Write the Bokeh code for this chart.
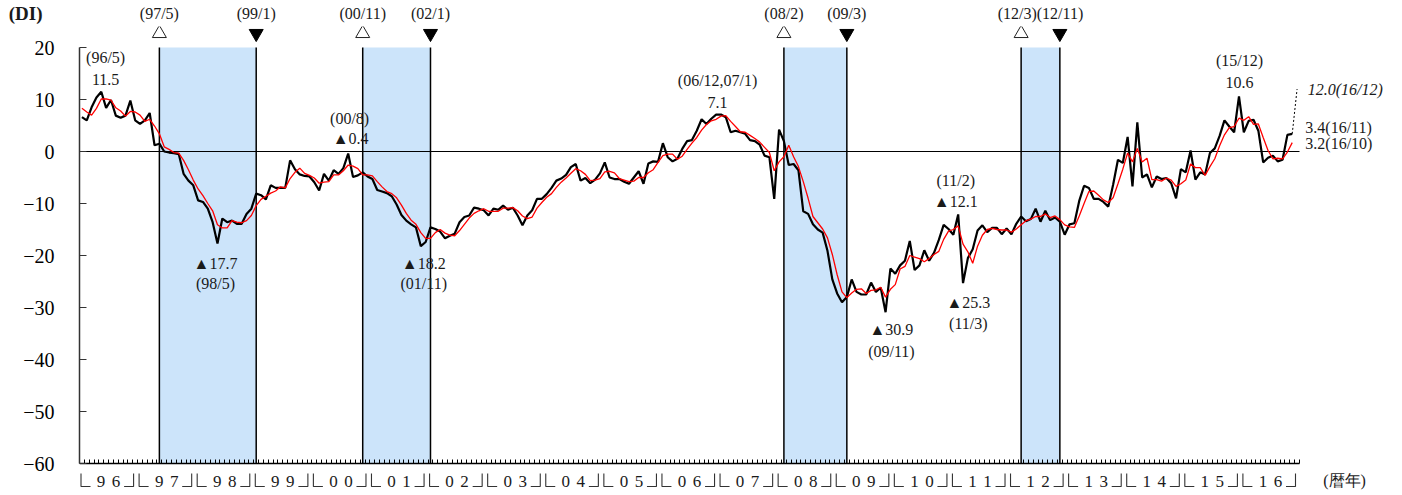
from bokeh.plotting import figure
from bokeh.layouts import column
from bokeh.models import Range1d, FixedTicker, BoxAnnotation
from bokeh.core.properties import value
from bokeh.embed import file_html
from bokeh.resources import INLINE

# ---------------- data (monthly, 1996/1 .. 2016/11) ----------------
di = [6.6, 6.0, 8.5, 10.4, 11.5, 8.4, 9.9, 6.9, 6.5, 6.9, 9.8, 6.0,
      5.3, 6.0, 7.4, 1.2, 1.5, 0.0, -0.2, -0.3, -0.5, -4.3, -5.6, -6.5,
      -9.4, -9.7, -11.0, -13.6, -17.7, -12.9, -13.6, -13.3, -13.9, -13.9, -12.0, -11.0,
      -8.1, -8.4, -9.2, -6.5, -7.0, -7.0, -7.0, -1.7, -3.4, -4.4, -4.7, -4.8,
      -5.9, -7.5, -4.3, -5.6, -3.6, -4.3, -3.2, -0.4, -4.9, -4.6, -4.0, -4.8,
      -5.3, -7.4, -7.7, -8.0, -8.6, -10.2, -12.2, -13.3, -14.0, -14.6, -18.2, -17.4,
      -14.6, -14.9, -15.4, -16.7, -16.2, -15.8, -13.6, -12.6, -12.3, -10.8, -11.0, -11.3,
      -12.3, -11.0, -11.2, -10.4, -11.2, -10.8, -12.3, -14.2, -12.3, -11.3, -9.1, -9.1,
      -8.2, -7.0, -5.6, -5.2, -4.5, -3.0, -2.4, -5.6, -5.1, -6.1, -5.4, -4.2,
      -2.1, -5.0, -5.3, -5.3, -5.8, -6.2, -5.0, -3.8, -6.2, -2.3, -1.9, -2.0,
      1.6, -1.1, -1.9, -1.4, 0.5, 2.0, 2.2, 4.0, 6.2, 5.3, 6.3, 7.1,
      7.1, 6.6, 3.7, 4.0, 3.7, 3.4, 2.2, 2.0, 1.3, -0.8, -1.1, -9.1,
      4.2, 2.0, -2.6, -2.4, -3.6, -11.5, -12.0, -14.0, -15.0, -15.6, -19.1, -24.6,
      -27.3, -29.0, -28.0, -24.6, -27.0, -27.5, -27.5, -25.2, -27.0, -26.2, -30.9, -22.5,
      -23.5, -21.9, -21.0, -17.2, -22.8, -21.9, -19.0, -21.0, -19.5, -17.0, -14.1, -14.9,
      -16.0, -12.1, -25.3, -20.5, -18.8, -15.2, -14.2, -15.5, -14.7, -14.7, -15.9, -14.8,
      -15.9, -13.9, -12.5, -13.4, -13.0, -11.0, -13.5, -11.4, -13.2, -12.7, -13.5, -16.0,
      -14.0, -13.8, -9.5, -6.6, -7.0, -9.1, -9.1, -9.7, -10.6, -6.4, -1.6, -2.2,
      2.8, -6.7, 5.6, -5.0, -4.4, -6.9, -4.8, -5.3, -5.1, -6.1, -9.0, -3.4,
      -4.0, 0.2, -5.4, -4.0, -4.4, -0.3, 0.6, 3.0, 6.0, 4.8, 3.7, 10.6,
      3.7, 5.9, 6.1, 4.0, -2.1, -1.2, -0.8, -1.9, -1.6, 3.2, 3.4]

ma3 = [8.3, 7.6, 7.0, 8.3, 10.1, 10.1, 9.9, 8.4, 7.8, 6.8, 7.7, 7.6,
       7.0, 5.8, 6.2, 4.9, 3.4, 0.9, 0.4, -0.2, -0.3, -1.7, -3.5, -5.5,
       -7.2, -8.5, -10.0, -11.4, -14.1, -14.7, -14.7, -13.3, -13.6, -13.7, -13.3, -12.3,
       -10.4, -9.2, -8.6, -8.0, -7.6, -6.8, -7.0, -5.2, -4.0, -3.2, -4.2, -4.6,
       -5.1, -6.1, -5.9, -5.8, -4.5, -4.5, -3.7, -2.6, -2.8, -3.3, -4.5, -4.5,
       -4.7, -5.8, -6.8, -7.7, -8.1, -8.9, -10.3, -11.9, -13.2, -14.0, -15.6, -16.7,
       -16.7, -15.6, -15.0, -15.7, -16.1, -16.2, -15.2, -14.0, -12.8, -11.9, -11.4, -11.0,
       -11.5, -11.5, -11.5, -10.9, -10.9, -10.8, -11.4, -12.4, -12.9, -12.6, -10.9, -9.8,
       -8.8, -8.1, -6.9, -5.9, -5.1, -4.2, -3.3, -3.7, -4.4, -5.6, -5.5, -5.2,
       -3.9, -3.8, -4.1, -5.2, -5.5, -5.8, -5.7, -5.0, -5.0, -4.1, -3.5, -2.1,
       -0.8, -0.5, -0.5, -1.5, -0.9, 0.4, 1.6, 2.7, 4.1, 5.2, 5.9, 6.2,
       6.8, 6.9, 5.8, 4.8, 3.8, 3.7, 3.1, 2.5, 1.8, 0.8, -0.2, -3.7,
       -2.0, -1.0, 1.2, -1.0, -2.9, -5.8, -9.0, -12.5, -13.7, -14.9, -16.6, -19.8,
       -23.7, -27.0, -28.1, -27.2, -26.5, -26.4, -27.3, -26.7, -26.6, -26.1, -28.0, -26.5,
       -25.6, -22.6, -22.1, -20.0, -20.3, -20.6, -21.2, -20.6, -19.8, -19.2, -16.9, -15.3,
       -15.0, -14.3, -17.8, -19.3, -21.5, -18.2, -16.1, -15.0, -14.8, -15.0, -15.1, -15.1,
       -15.5, -14.9, -14.1, -13.3, -13.0, -12.5, -12.5, -12.0, -12.7, -12.4, -13.1, -14.1,
       -14.5, -14.6, -12.4, -10.0, -7.7, -7.6, -8.4, -9.3, -9.8, -8.9, -6.2, -3.4,
       -0.3, -2.0, 0.6, -2.0, -1.3, -5.4, -5.4, -5.7, -5.1, -5.5, -6.7, -6.2,
       -5.5, -2.4, -3.1, -3.1, -4.6, -2.9, -1.4, 1.1, 3.2, 4.6, 4.8, 6.4,
       6.0, 6.7, 5.2, 5.3, 2.7, 0.2, -1.4, -1.3, -1.4, -0.1, 1.7]

months = list(range(len(di)))          # 0 = 1996/1
forecast_x = [250, 251]                # 16/11 -> 16/12 (forecast)
forecast_y = [3.4, 12.0]

year_labels = ["96", "97", "98", "99", "00", "01", "02", "03", "04", "05", "06",
               "07", "08", "09", "10", "11", "12", "13", "14", "15", "16"]

peak_months = [16, 58, 145, 194]       # 97/5, 00/11, 08/2, 12/3
trough_months = [36, 72, 158, 202]     # 99/1, 02/1, 09/3, 12/11
turn_x = [16, 36, 58, 72, 145, 158, 198]
turn_labels = ["(97/5)", "(99/1)", "(00/11)", "(02/1)", "(08/2)", "(09/3)", "(12/3)(12/11)"]

y_ticks = [-60, -50, -40, -30, -20, -10, 0, 10, 20]

# ---------------- layout constants ----------------
SERIF = "Liberation Serif"
TXT = "#1a1a1a"
N_SLOTS = 252
PX = 1220 / N_SLOTS                    # pixels per month
PY = 416 / 80                          # pixels per DI point
X0 = -0.5
X_END = X0 + 1323 / PX                 # frames reach the right edge of the page
TOP_H = 26                             # top strip height (px)
Y_TOP = 20 + (47 - TOP_H) / PY         # main frame starts just under the top strip
Y_BOT = -60 - (495 - 463) / PY         # main frame reaches the bottom of the page


def below(px):
    """data y for a point px pixels below the -60 axis line"""
    return -60 - px / PY


# ======================= top strip =======================
pt = figure(frame_width=1323, frame_height=TOP_H, x_range=Range1d(X0, X_END),
            y_range=Range1d(TOP_H, 0), x_axis_location=None,
            min_border_left=79, min_border_right=0, min_border_top=0,
            min_border_bottom=0, output_backend="svg", toolbar_location=None)
pt.grid.visible = False
pt.outline_line_color = None
pt.text(x=turn_x, y=[13] * len(turn_x), text=turn_labels, text_align="center",
        text_baseline="middle", text_font=value(SERIF), text_font_size="16px",
        text_color=TXT)
ya = pt.yaxis[0]
ya.ticker = FixedTicker(ticks=[])
ya.bounds = (15, 17)
ya.axis_line_color = None
ya.major_tick_line_color = None
ya.minor_tick_line_color = None
ya.axis_label = "(DI)"
ya.axis_label_orientation = "horizontal"
ya.axis_label_standoff = 37
ya.axis_label_text_font = SERIF
ya.axis_label_text_font_style = "bold"
ya.axis_label_text_font_size = "19px"
ya.axis_label_text_color = TXT

# ======================= main chart =======================
p = figure(frame_width=1323, frame_height=495 - TOP_H,
           x_range=Range1d(X0, X_END), y_range=Range1d(Y_BOT, Y_TOP),
           min_border_left=79, min_border_right=0, min_border_top=0,
           min_border_bottom=0, output_backend="svg", toolbar_location=None)
p.grid.visible = False
p.outline_line_color = None

for a, b in zip(peak_months, trough_months):
    p.add_layout(BoxAnnotation(left=a, right=b, top=20, bottom=-60,
                               fill_color="#cce4fa", fill_alpha=1.0,
                               line_alpha=0, level="underlay"))
turns = peak_months + trough_months
p.segment(x0=turns, y0=[-60] * len(turns), x1=turns, y1=[20] * len(turns),
          line_color="black", line_width=1.5)
p.segment(x0=[months[0] - 0.5], y0=[0], x1=[months[-1] + 1.5], y1=[0],
          line_color="black", line_width=1.2)

# turning point markers (above the plotting area)
tri_y = 20 + (47 - 33) / PY
p.scatter(x=peak_months, y=[tri_y] * len(peak_months), marker="triangle", size=14,
          fill_color="white", line_color="#222222", line_width=1)
p.scatter(x=trough_months, y=[tri_y] * len(trough_months), marker="inverted_triangle",
          size=14, fill_color="black", line_color="black", line_width=1)

p.line(months, di, line_color="black", line_width=2.2)
p.line(months, ma3, line_color="#ff0000", line_width=1.3)
p.line(forecast_x, forecast_y, line_color="black", line_width=1, line_dash="2 2")

# axes
p.xaxis.fixed_location = -60
p.xaxis.bounds = (X0, X0 + N_SLOTS)
p.xaxis.ticker = FixedTicker(ticks=[X0 + i for i in range(N_SLOTS + 1)])
p.xaxis.major_label_overrides = {X0 + i: "" for i in range(N_SLOTS + 1)}
p.xaxis.major_label_text_font_size = "1px"
p.xaxis.major_label_standoff = 0
p.xaxis.major_tick_in = 4
p.xaxis.major_tick_out = 0
p.xaxis.minor_tick_line_color = None
p.xaxis.axis_line_color = "black"
p.xaxis.axis_line_width = 1.5
p.xaxis.major_tick_line_color = "black"

p.yaxis.bounds = (-60, 20)
p.yaxis.ticker = FixedTicker(ticks=y_ticks)
p.yaxis.major_label_overrides = {t: str(t).replace("-", "\u2212") for t in y_ticks}
p.yaxis.major_tick_in = 7
p.yaxis.major_tick_out = 0
p.yaxis.minor_tick_line_color = None
p.yaxis.axis_line_color = "#333333"
p.yaxis.axis_line_width = 1.5
p.yaxis.major_tick_line_color = "#333333"
p.yaxis.major_label_standoff = 25
p.yaxis.major_label_text_font = SERIF
p.yaxis.major_label_text_font_size = "20px"
p.yaxis.major_label_text_color = "black"

# value annotations
ann_x = [4.9, 4.9, 55.3, 55.5, 27.6, 27.6, 70.6, 70.6, 131.3, 131.3,
         167.2, 167.2, 180.5, 180.5, 183.1, 183.1, 239.1, 239.1]
ann_y = [18.1, 13.8, 6.3, 2.5, -21.5, -25.4, -21.5, -25.4, 13.7, 9.4,
         -34.2, -38.5, -5.6, -9.6, -29.0, -33.1, 17.5, 13.3]
ann_t = ["(96/5)", "11.5", "(00/8)", "\u25b20.4", "\u25b217.7", "(98/5)",
         "\u25b218.2", "(01/11)", "(06/12,07/1)", "7.1", "\u25b230.9", "(09/11)",
         "(11/2)", "\u25b212.1", "\u25b225.3", "(11/3)", "(15/12)", "10.6"]
p.text(x=ann_x, y=ann_y, text=ann_t, text_align="center", text_baseline="middle",
       text_font=value(SERIF), text_font_size="16px", text_color=TXT)

p.text(x=[253.2], y=[11.9], text=["12.0(16/12)"], text_align="left",
       text_baseline="middle", text_font=value(SERIF), text_font_style="italic",
       text_font_size="16px", text_color=TXT)
p.text(x=[252.7, 252.7], y=[4.6, 1.5], text=["3.4(16/11)", "3.2(16/10)"],
       text_align="left", text_baseline="middle", text_font=value(SERIF),
       text_font_size="16px", text_color=TXT)

# year labels  └ 9 6 ┘  under the axis
dig_x, dig_t, br_xs, br_ys = [], [], [], []
half = 7.5 / PX
for k, yl in enumerate(year_labels):
    start = X0 + 12 * k
    end = start + 12
    c = start + 6
    dig_x += [c - half, c + half]
    dig_t += [yl[0], yl[1]]
    lx = start + 1.5 / PX
    br_xs.append([lx, lx, lx + 9.5 / PX])
    br_ys.append([below(10), below(23), below(23)])
    rx = end - 4 / PX
    br_xs.append([rx - 9.5 / PX, rx, rx])
    br_ys.append([below(23), below(23), below(10)])
p.text(x=dig_x, y=[below(18)] * len(dig_x), text=dig_t, text_align="center",
       text_baseline="middle", text_font=value(SERIF), text_font_size="17px",
       text_color=TXT)
p.multi_line(xs=br_xs, ys=br_ys, line_color="#333333", line_width=1.1)
p.text(x=[X0 + (1344 - 79) / PX], y=[below(17)], text=["(暦年)"], text_align="center",
       text_baseline="middle", text_font=value(SERIF),
       text_font_size="16px", text_color=TXT)

layout = column(pt, p, spacing=0)
open("out.html", "w").write(file_html(layout, INLINE))
